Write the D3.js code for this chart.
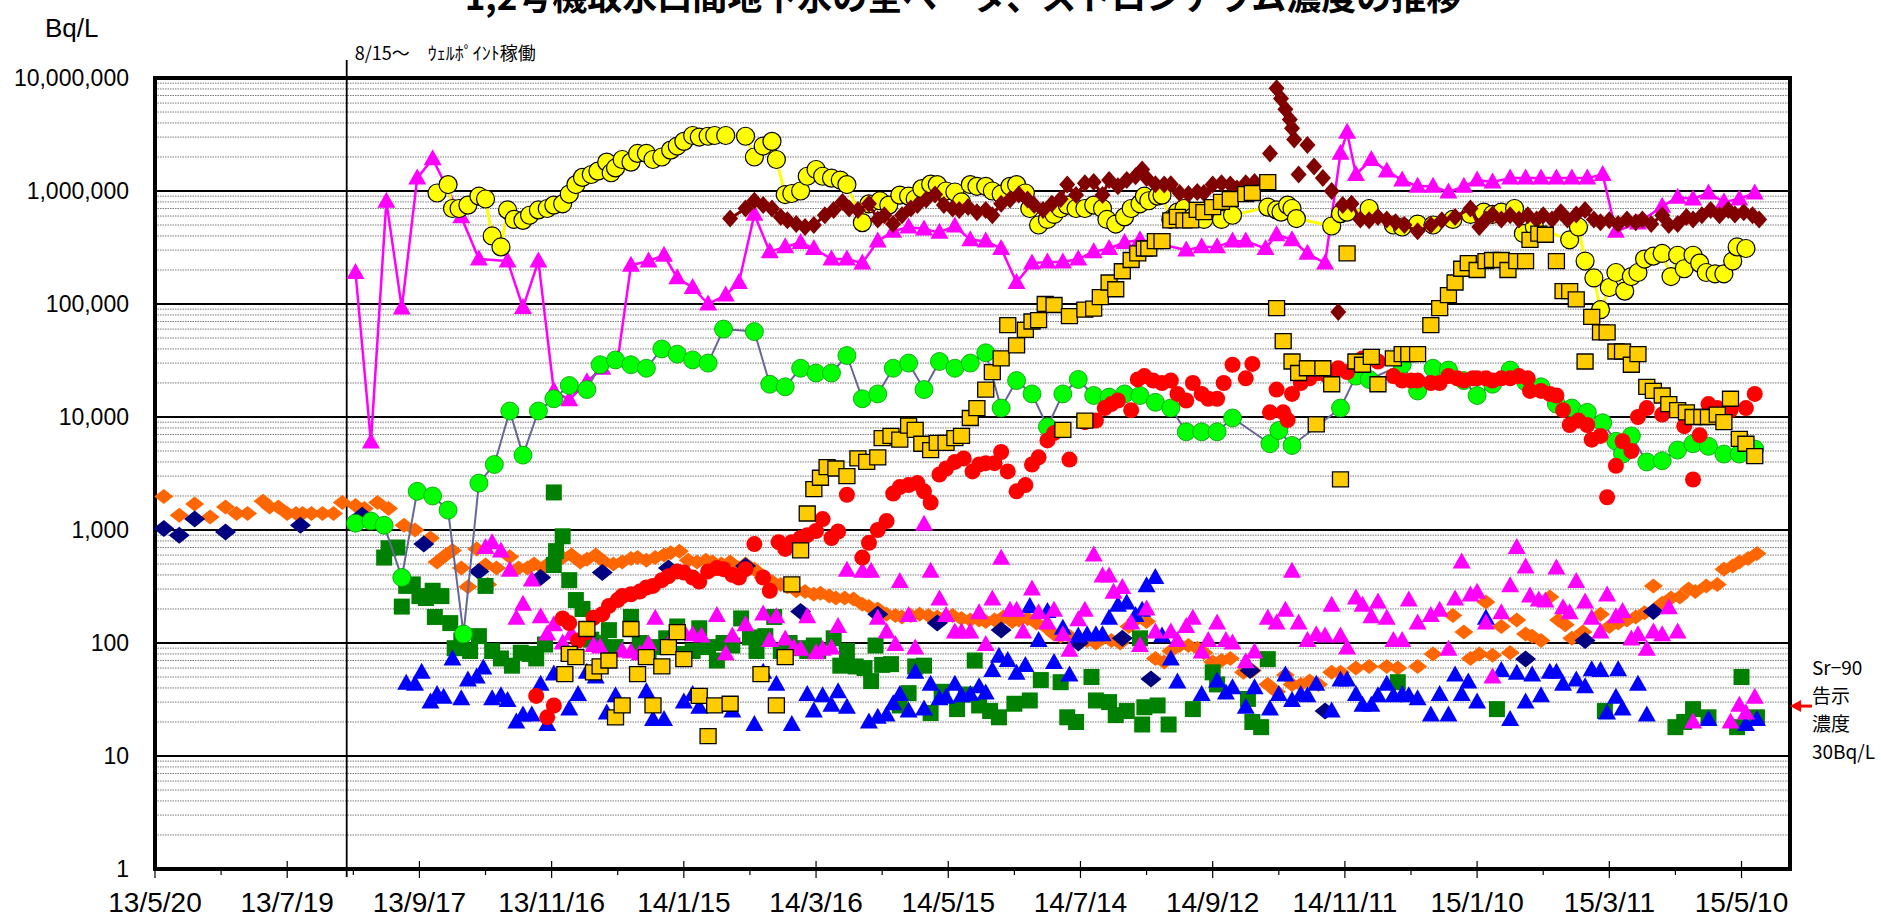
<!DOCTYPE html>
<html>
<head>
<meta charset="utf-8">
<script src="https://cdn.jsdelivr.net/npm/d3@7"></script>
<style>
body { margin: 0; background: #fff; }
</style>
</head>
<body>
<div id="chart"></div>
<script>
// tick labels
var xTickLabels = ["13/5/20","13/7/19","13/9/17","13/11/16","14/1/15","14/3/16","14/5/15","14/7/14","14/9/12","14/11/11","15/1/10","15/3/11","15/5/10"];
var yTickValues = [1,10,100,1000,10000,100000,1000000,10000000];
var yTickLabels = ["1","10","100","1,000","10,000","100,000","1,000,000","10,000,000"];

// series, [date, Bq/L]
var yellowCircles = [["13/9/25",9.6e5],["13/9/30",1.14e6],["13/10/2",7.0e5],["13/10/5",7.0e5],["13/10/9",7.5e5],["13/10/14",9.0e5],["13/10/17",8.5e5],["13/10/20",4.0e5],["13/10/24",3.2e5],["13/10/27",6.8e5],["13/10/30",5.6e5],["13/11/3",5.5e5],["13/11/6",6.1e5],["13/11/10",6.8e5],["13/11/14",7.0e5],["13/11/17",7.5e5],["13/11/21",7.7e5],["13/11/24",9.4e5],["13/11/27",1.14e6],["13/11/30",1.32e6],["13/12/4",1.4e6],["13/12/7",1.5e6],["13/12/11",1.8e6],["13/12/13",1.45e6],["13/12/15",1.6e6],["13/12/18",1.9e6],["13/12/22",1.8e6],["13/12/25",2.15e6],["13/12/29",2.15e6],["14/1/1",1.9e6],["14/1/5",2.0e6],["14/1/9",2.3e6],["14/1/12",2.5e6],["14/1/15",2.75e6],["14/1/19",3.1e6],["14/1/22",3.0e6],["14/1/26",3.05e6],["14/1/29",3.1e6],["14/2/3",3.1e6],["14/2/12",3.05e6],["14/2/16",2.0e6],["14/2/20",2.5e6],["14/2/24",2.75e6],["14/2/26",1.9e6],["14/3/2",9.3e5],["14/3/5",9.5e5],["14/3/9",1.0e6],["14/3/12",1.35e6],["14/3/16",1.55e6],["14/3/19",1.35e6],["14/3/23",1.3e6],["14/3/27",1.25e6],["14/3/30",1.14e6],["14/4/6",5.25e5],["14/4/9",7.7e5],["14/4/14",8.2e5],["14/4/18",7.5e5],["14/4/23",9.2e5],["14/4/27",9.0e5],["14/4/30",8.5e5],["14/5/3",1.05e6],["14/5/7",1.15e6],["14/5/10",1.14e6],["14/5/14",1.0e6],["14/5/18",9.8e5],["14/5/21",8.0e5],["14/5/25",1.14e6],["14/5/28",1.1e6],["14/6/1",1.1e6],["14/6/4",1.0e6],["14/6/8",9.4e5],["14/6/12",1.1e6],["14/6/15",1.14e6],["14/6/19",9.6e5],["14/6/21",7.0e5],["14/6/25",5.0e5],["14/6/29",5.6e5],["14/7/2",6.2e5],["14/7/5",7.0e5],["14/7/8",7.5e5],["14/7/12",7.0e5],["14/7/16",7.0e5],["14/7/20",7.5e5],["14/7/24",7.0e5],["14/7/26",5.6e5],["14/7/30",5.1e5],["14/8/3",5.9e5],["14/8/6",7.0e5],["14/8/10",7.7e5],["14/8/12",9.0e5],["14/8/14",8.2e5],["14/8/18",9.0e5],["14/8/20",9.2e5],["14/8/24",5.6e5],["14/8/27",6.5e5],["14/8/30",7.0e5],["14/9/3",5.9e5],["14/9/8",5.6e5],["14/9/16",5.6e5],["14/9/21",6.1e5],["14/10/7",7.2e5],["14/10/11",6.8e5],["14/10/13",6.5e5],["14/10/16",7.5e5],["14/10/18",7.0e5],["14/10/20",5.7e5],["14/11/5",4.9e5],["14/11/9",6.3e5],["14/11/12",6.5e5],["14/11/22",7.0e5],["14/12/3",5.0e5],["14/12/7",4.8e5],["14/12/14",5.1e5],["14/12/21",5.0e5],["14/12/30",5.6e5],["15/1/7",6.2e5],["15/1/13",6.5e5],["15/1/17",6.2e5],["15/1/21",6.5e5],["15/1/27",7.0e5],["15/1/31",4.2e5],["15/2/5",4.8e5],["15/2/21",3.7e5],["15/2/25",4.8e5],["15/2/28",2.4e5],["15/3/4",1.7e5],["15/3/7",8.9e4],["15/3/11",1.4e5],["15/3/14",1.9e5],["15/3/18",1.3e5],["15/3/21",1.75e5],["15/3/24",1.9e5],["15/3/27",2.5e5],["15/3/31",2.65e5],["15/4/4",2.8e5],["15/4/8",1.75e5],["15/4/11",2.7e5],["15/4/14",2.05e5],["15/4/18",2.7e5],["15/4/21",2.3e5],["15/4/24",1.9e5],["15/4/28",1.85e5],["15/5/2",1.85e5],["15/5/6",2.4e5],["15/5/8",3.2e5],["15/5/12",3.1e5]];

var maroonDiamonds = [["14/2/5",5.7e5],["14/2/12",7.0e5],["14/2/16",8.2e5],["14/2/20",7.5e5],["14/2/24",7.0e5],["14/2/28",5.9e5],["14/3/3",5.5e5],["14/3/7",5.1e5],["14/3/11",4.8e5],["14/3/15",5.0e5],["14/3/20",6.1e5],["14/3/24",6.8e5],["14/3/28",8.0e5],["14/3/31",7.0e5],["14/4/4",6.8e5],["14/4/9",7.7e5],["14/4/13",5.6e5],["14/4/16",6.1e5],["14/4/20",5.1e5],["14/4/24",6.1e5],["14/4/28",7.0e5],["14/5/1",7.5e5],["14/5/5",8.4e5],["14/5/9",9.3e5],["14/5/13",7.5e5],["14/5/17",7.0e5],["14/5/20",6.8e5],["14/5/24",7.2e5],["14/5/28",6.5e5],["14/6/1",6.8e5],["14/6/4",6.1e5],["14/6/8",7.7e5],["14/6/12",8.4e5],["14/6/16",9.3e5],["14/6/20",8.4e5],["14/6/23",7.5e5],["14/6/27",6.8e5],["14/7/1",7.7e5],["14/7/5",8.5e5],["14/7/8",1.14e6],["14/7/12",9.2e5],["14/7/16",1.17e6],["14/7/20",1.2e6],["14/7/24",9.2e5],["14/7/27",1.25e6],["14/7/31",1.1e6],["14/8/4",1.25e6],["14/8/8",1.35e6],["14/8/11",1.55e6],["14/8/13",1.3e6],["14/8/17",1.15e6],["14/8/21",1.14e6],["14/8/24",1.15e6],["14/8/28",9.6e5],["14/9/1",9.4e5],["14/9/5",9.8e5],["14/9/8",9.6e5],["14/9/12",1.14e6],["14/9/16",1.17e6],["14/9/20",1.14e6],["14/9/23",1.05e6],["14/9/27",1.17e6],["14/10/1",1.2e6]];
var maroonDiamondsLate = [["14/11/10",7.5e5],["14/11/14",7.7e5],["14/11/18",5.6e5],["14/11/22",5.5e5],["14/11/26",5.9e5],["14/11/30",5.6e5],["14/12/4",5.3e5],["14/12/8",5.0e5],["14/12/14",4.4e5],["14/12/20",5.0e5],["14/12/25",5.5e5],["14/12/31",5.9e5],["15/1/7",7.0e5],["15/1/11",4.8e5],["15/1/14",5.6e5],["15/1/17",6.2e5],["15/1/21",5.6e5],["15/1/25",6.1e5],["15/1/29",5.6e5],["15/2/2",6.1e5],["15/2/6",5.6e5],["15/2/9",6.1e5],["15/2/13",5.6e5],["15/2/17",6.5e5],["15/2/20",5.6e5],["15/2/24",6.2e5],["15/2/28",6.8e5],["15/3/4",5.6e5],["15/3/7",5.3e5],["15/3/11",5.5e5],["15/3/15",5.1e5],["15/3/19",5.6e5],["15/3/23",5.3e5],["15/3/26",5.6e5],["15/3/30",5.1e5],["15/4/4",6.1e5],["15/4/7",5.0e5],["15/4/11",5.1e5],["15/4/15",5.9e5],["15/4/18",5.6e5],["15/4/22",6.1e5],["15/4/26",6.8e5],["15/4/30",6.1e5],["15/5/4",6.8e5],["15/5/7",6.2e5],["15/5/11",6.5e5],["15/5/15",6.1e5],["15/5/18",5.6e5]];
var maroonSpike = [["14/10/11",8.1e6],["14/10/13",6.6e6],["14/10/15",5.3e6],["14/10/17",4.3e6],["14/10/18",3.6e6],["14/10/19",2.85e6]];
var maroonIsolated = [["14/10/8",2.15e6],["14/10/21",1.4e6],["14/10/25",2.55e6],["14/10/28",1.65e6],["14/11/1",1.3e6],["14/11/5",1.0e6],["14/11/8",8.5e4]];

var magentaLine = [["13/8/19",1.9e5],["13/8/26",6.0e3],["13/9/2",8.1e5],["13/9/9",9.2e4],["13/9/16",1.3e6],["13/9/23",1.93e6],["13/10/6",5.9e5],["13/10/14",2.5e5],["13/10/27",2.4e5],["13/11/3",9.3e4],["13/11/10",2.4e5],["13/11/17",1.7e4],["13/11/24",1.42e4],["13/12/2",2.05e4],["13/12/9",2.7e4],["13/12/16",3.2e4],["13/12/22",2.2e5],["13/12/30",2.4e5],["14/1/6",2.7e5],["14/1/12",1.7e5],["14/1/19",1.4e5],["14/1/26",1.0e5],["14/2/3",1.2e5],["14/2/9",1.55e5],["14/2/16",6.2e5],["14/2/23",2.9e5],["14/3/2",3.2e5],["14/3/9",3.5e5],["14/3/15",3.1e5],["14/3/23",2.5e5],["14/3/30",2.5e5],["14/4/6",2.3e5],["14/4/13",3.6e5],["14/4/20",4.4e5],["14/4/27",4.8e5],["14/5/4",4.6e5],["14/5/11",4.3e5],["14/5/18",4.9e5],["14/5/25",3.7e5],["14/6/1",3.6e5],["14/6/8",3.1e5],["14/6/15",1.55e5],["14/6/22",2.3e5],["14/6/29",2.35e5],["14/7/6",2.35e5],["14/7/13",2.5e5],["14/7/20",2.9e5],["14/7/27",3.1e5],["14/8/3",3.5e5],["14/8/10",3.7e5],["14/8/31",3.0e5],["14/9/7",3.2e5],["14/9/14",3.2e5],["14/9/21",3.6e5],["14/9/27",3.6e5],["14/10/6",3.1e5],["14/10/11",4.1e5],["14/10/18",3.7e5],["14/10/25",2.8e5],["14/11/2",2.3e5],["14/11/9",2.15e6],["14/11/12",3.3e6],["14/11/16",1.4e6],["14/11/23",1.9e6],["14/11/30",1.5e6],["14/12/7",1.25e6],["14/12/14",1.1e6],["14/12/21",1.1e6],["14/12/28",9.8e5],["15/1/4",1.1e6],["15/1/10",1.25e6],["15/1/17",1.2e6],["15/1/25",1.3e6],["15/2/1",1.3e6],["15/2/8",1.3e6],["15/2/15",1.3e6],["15/2/22",1.3e6],["15/3/1",1.3e6],["15/3/8",1.4e6],["15/3/14",4.4e5],["15/3/24",5.2e5],["15/4/4",7.3e5],["15/4/11",8.8e5],["15/4/18",8.5e5],["15/4/25",9.6e5],["15/5/2",8.0e5],["15/5/9",8.5e5],["15/5/16",9.6e5]];

var greenCircles = [["13/8/19",1.15e3],["13/8/26",1.2e3],["13/9/1",1.1e3],["13/9/9",3.8e2],["13/9/16",2.2e3],["13/9/23",2.0e3],["13/9/30",1.5e3],["13/10/7",1.2e2],["13/10/14",2.6e3],["13/10/21",3.8e3],["13/10/28",1.13e4],["13/11/3",4.6e3],["13/11/10",1.13e4],["13/11/17",1.45e4],["13/11/24",1.9e4],["13/12/2",1.75e4],["13/12/8",2.9e4],["13/12/15",3.2e4],["13/12/22",2.9e4],["13/12/29",2.7e4],["14/1/5",4.0e4],["14/1/12",3.6e4],["14/1/19",3.2e4],["14/1/26",3.0e4],["14/2/2",6.0e4],["14/2/16",5.7e4],["14/2/23",1.95e4],["14/3/2",1.85e4],["14/3/9",2.7e4],["14/3/16",2.45e4],["14/3/23",2.45e4],["14/3/30",3.5e4],["14/4/6",1.45e4],["14/4/13",1.6e4],["14/4/20",2.7e4],["14/4/27",3.0e4],["14/5/4",1.75e4],["14/5/11",3.1e4],["14/5/18",2.7e4],["14/5/25",3.0e4],["14/6/1",3.7e4],["14/6/8",1.2e4],["14/6/15",2.1e4],["14/6/22",1.6e4],["14/6/29",8.2e3],["14/7/6",1.6e4],["14/7/13",2.15e4],["14/7/20",1.55e4],["14/7/27",1.5e4],["14/8/3",1.6e4],["14/8/10",1.55e4],["14/8/17",1.35e4],["14/8/24",1.2e4],["14/8/31",7.4e3],["14/9/7",7.4e3],["14/9/14",7.4e3],["14/9/21",9.8e3],["14/10/8",5.8e3],["14/10/12",7.6e3],["14/10/18",5.6e3],["14/11/9",1.2e4],["14/11/16",2.3e4],["14/11/22",2.15e4],["14/12/7",2.9e4],["14/12/14",1.7e4],["14/12/21",2.7e4],["14/12/28",2.6e4],["15/1/4",2.1e4],["15/1/10",1.55e4],["15/1/17",1.95e4],["15/1/25",2.6e4],["15/2/1",2.05e4],["15/2/8",1.85e4],["15/2/15",1.3e4],["15/2/22",1.2e4],["15/3/1",1.1e4],["15/3/8",8.9e3],["15/3/14",6.1e3],["15/3/17",4.7e3],["15/3/21",6.8e3],["15/3/28",4.0e3],["15/4/4",4.1e3],["15/4/11",5.1e3],["15/4/18",5.8e3],["15/4/25",5.5e3],["15/5/2",4.7e3],["15/5/9",4.7e3],["15/5/16",5.2e3]];

var goldSquares = [["13/11/22",53],["13/11/24",80],["13/11/27",75],["13/12/2",133],["13/12/5",55],["13/12/8",62],["13/12/12",70],["13/12/15",22],["13/12/18",28],["13/12/22",133],["13/12/25",53],["13/12/29",75],["14/1/1",28],["14/1/5",62],["14/1/8",92],["14/1/12",125],["14/1/15",72],["14/1/22",34],["14/1/26",15],["14/1/29",28],["14/2/5",29],["14/2/19",53],["14/2/26",28],["14/3/2",75],["14/3/5",330],["14/3/9",660],["14/3/12",1400],["14/3/15",2300],["14/3/18",2900],["14/3/21",3600],["14/3/25",3500],["14/3/30",3000],["14/4/4",4300],["14/4/8",4000],["14/4/13",4400],["14/4/15",6500],["14/4/19",6800],["14/4/23",6300],["14/4/27",8400],["14/4/30",7700],["14/5/3",5800],["14/5/7",5100],["14/5/10",5900],["14/5/14",5900],["14/5/18",6500],["14/5/21",6800],["14/5/25",9800],["14/5/28",1.2e4],["14/6/1",1.75e4],["14/6/4",2.5e4],["14/6/8",3.3e4],["14/6/11",6.5e4],["14/6/15",4.3e4],["14/6/19",5.9e4],["14/6/22",7.0e4],["14/6/25",7.2e4],["14/6/28",1.0e5],["14/7/2",9.8e4],["14/7/6",7700],["14/7/9",7.8e4],["14/7/16",8.9e4],["14/7/16",9300],["14/7/20",9.1e4],["14/7/23",1.15e5],["14/7/27",1.55e5],["14/7/30",1.35e5],["14/8/2",1.95e5],["14/8/6",2.45e5],["14/8/9",2.8e5],["14/8/12",3.1e5],["14/8/14",3.1e5],["14/8/17",3.6e5],["14/8/20",3.6e5],["14/8/24",5.5e5],["14/8/27",5.9e5],["14/8/30",5.5e5],["14/9/2",5.5e5],["14/9/5",6.8e5],["14/9/8",6.5e5],["14/9/12",7.2e5],["14/9/16",8.0e5],["14/9/20",8.5e5],["14/9/27",9.4e5],["14/9/30",9.6e5],["14/10/7",1.2e6],["14/10/11",9.2e4],["14/10/14",4.7e4],["14/10/18",3.1e4],["14/10/21",2.45e4],["14/10/25",2.7e4],["14/10/29",8600],["14/11/1",2.7e4],["14/11/5",1.95e4],["14/11/9",2800],["14/11/12",2.8e5],["14/11/16",3.1e4],["14/11/19",2.9e4],["14/11/23",3.4e4],["14/11/26",1.95e4],["14/12/3",3.3e4],["14/12/7",3.6e4],["14/12/10",3.6e4],["14/12/14",3.6e4],["14/12/20",6.5e4],["14/12/24",9.2e4],["14/12/28",1.2e5],["14/12/31",1.55e5],["15/1/3",2.05e5],["15/1/6",2.3e5],["15/1/10",2.0e5],["15/1/14",2.4e5],["15/1/17",2.45e5],["15/1/21",2.45e5],["15/1/24",2.0e5],["15/1/28",2.4e5],["15/2/1",2.4e5],["15/2/3",3.7e5],["15/2/7",4.2e5],["15/2/10",4.1e5],["15/2/15",2.4e5],["15/2/18",1.3e5],["15/2/21",1.3e5],["15/2/24",1.1e5],["15/2/28",3.1e4],["15/3/3",7.7e4],["15/3/7",5.6e4],["15/3/10",5.6e4],["15/3/14",3.8e4],["15/3/17",3.8e4],["15/3/21",2.9e4],["15/3/24",3.6e4],["15/3/28",1.85e4],["15/3/31",1.7e4],["15/4/4",1.55e4],["15/4/7",1.3e4],["15/4/11",1.15e4],["15/4/15",1.1e4],["15/4/18",1.0e4],["15/4/22",1.0e4],["15/4/25",1.0e4],["15/4/29",1.05e4],["15/5/2",9000],["15/5/5",1.45e4],["15/5/9",6400],["15/5/12",5800],["15/5/16",4500]];

var redCircles = [["13/11/9",34],["13/11/14",22],["13/11/17",28],["13/11/21",165],["13/11/24",150],["13/11/28",105],["13/12/2",125],["13/12/5",167],["13/12/9",180],["13/12/12",213],["13/12/16",240],["13/12/18",260],["13/12/22",270],["13/12/26",285],["13/12/29",310],["14/1/1",320],["14/1/5",360],["14/1/8",390],["14/1/12",430],["14/1/15",420],["14/1/19",380],["14/1/22",350],["14/1/26",430],["14/1/30",460],["14/2/2",450],["14/2/6",400],["14/2/9",380],["14/2/12",450],["14/2/16",750],["14/2/20",380],["14/2/23",290],["14/2/27",780],["14/3/2",680],["14/3/5",780],["14/3/9",850],["14/3/12",900],["14/3/16",980],["14/3/19",1250],["14/3/23",850],["14/3/26",970],["14/3/30",2050],["14/4/6",570],["14/4/9",770],["14/4/13",1000],["14/4/17",1200],["14/4/20",2100],["14/4/23",2400],["14/4/27",2500],["14/5/1",2600],["14/5/4",2200],["14/5/7",1750],["14/5/11",3100],["14/5/14",3500],["14/5/18",4000],["14/5/22",4300],["14/5/26",3300],["14/5/29",3800],["14/6/1",3900],["14/6/5",3900],["14/6/8",4900],["14/6/11",3300],["14/6/15",2200],["14/6/19",2500],["14/6/22",3800],["14/6/25",4400],["14/6/29",6200],["14/7/2",7200],["14/7/9",4200],["14/7/16",9000],["14/7/21",9300],["14/7/25",1.2e4],["14/7/28",1.3e4],["14/7/31",1.4e4],["14/8/6",1.15e4],["14/8/9",2.15e4],["14/8/12",2.3e4],["14/8/16",2.1e4],["14/8/20",2.0e4],["14/8/24",2.1e4],["14/8/27",1.6e4],["14/8/31",1.4e4],["14/9/3",2.0e4],["14/9/7",1.6e4],["14/9/10",1.45e4],["14/9/14",1.45e4],["14/9/17",2.0e4],["14/9/21",2.9e4],["14/9/27",2.2e4],["14/9/30",2.95e4],["14/10/8",1.1e4],["14/10/11",1.75e4],["14/10/14",1.1e4],["14/10/16",9400],["14/10/18",1.6e4],["14/10/22",2.0e4],["14/10/26",2.2e4],["14/10/30",2.45e4],["14/11/3",2.3e4],["14/11/8",2.7e4],["14/11/12",2.5e4],["14/11/19",3.3e4],["14/11/26",3.1e4],["14/12/3",2.3e4],["14/12/7",2.1e4],["14/12/11",2.1e4],["14/12/14",2.1e4],["14/12/20",2.0e4],["14/12/24",2.0e4],["14/12/28",2.3e4],["15/1/1",2.2e4],["15/1/4",2.1e4],["15/1/8",2.2e4],["15/1/10",2.2e4],["15/1/14",2.2e4],["15/1/17",2.1e4],["15/1/21",2.2e4],["15/1/25",2.2e4],["15/1/29",2.3e4],["15/2/2",2.2e4],["15/2/3",1.7e4],["15/2/8",1.7e4],["15/2/12",1.6e4],["15/2/15",1.55e4],["15/2/18",1.15e4],["15/2/21",8500],["15/2/25",9300],["15/3/1",8500],["15/3/3",6300],["15/3/7",6800],["15/3/10",1950],["15/3/14",3700],["15/3/17",6100],["15/3/21",5000],["15/3/24",1.0e4],["15/3/28",1.2e4],["15/4/4",1.05e4],["15/4/14",8300],["15/4/18",2800],["15/4/21",6900],["15/4/25",1.3e4],["15/4/29",1.2e4],["15/5/5",1.15e4],["15/5/12",1.2e4],["15/5/16",1.6e4]];

var orangeDiamonds = [["13/5/24",1980],["13/5/31",1350],["13/6/7",1700],["13/6/14",1300],["13/6/21",1600],["13/6/26",1400],["13/7/1",1400],["13/7/8",1800],["13/7/11",1600],["13/7/15",1600],["13/7/19",1400],["13/7/23",1400],["13/7/26",1400],["13/7/30",1400],["13/8/4",1400],["13/8/9",1400],["13/8/13",1750],["13/8/19",1650],["13/8/23",1550],["13/8/29",1750],["13/9/3",1550],["13/9/10",1100],["13/9/15",1000],["13/9/22",850],["13/9/25",520],["13/9/29",600],["13/10/2",660],["13/10/6",460],["13/10/9",315],["13/10/13",680],["13/10/17",490],["13/10/18",330],["13/10/22",460],["13/10/28",580],["13/11/1",460],["13/11/5",460],["13/11/8",500],["13/11/12",460],["13/11/16",530],["13/11/21",570],["13/11/25",600],["13/11/29",520],["13/12/2",550],["13/12/6",600],["13/12/10",520],["13/12/14",500],["13/12/18",520],["13/12/22",560],["13/12/25",570],["13/12/29",540],["14/1/2",570],["14/1/6",600],["14/1/9",630],["14/1/13",650],["14/1/17",540],["14/1/21",520],["14/1/25",540],["14/1/28",520],["14/2/1",500],["14/2/5",520],["14/2/9",460],["14/2/12",500],["14/2/16",450],["14/2/20",380],["14/2/24",350],["14/2/28",330],["14/3/3",315],["14/3/7",290],["14/3/11",285],["14/3/15",270],["14/3/18",275],["14/3/22",260],["14/3/25",250],["14/3/29",250],["14/4/2",245],["14/4/6",220],["14/4/9",210],["14/4/13",200],["14/4/17",180],["14/4/21",175],["14/4/24",170],["14/4/28",175],["14/5/2",180],["14/5/6",175],["14/5/10",170],["14/5/13",165],["14/5/17",175],["14/5/21",165],["14/5/25",160],["14/5/29",160],["14/6/1",155],["14/6/5",160],["14/6/9",170],["14/6/13",155],["14/6/16",160],["14/6/20",165],["14/6/24",150],["14/6/28",140],["14/7/2",120],["14/7/5",115],["14/7/9",115],["14/7/13",110],["14/7/17",105],["14/7/21",100],["14/7/24",110],["14/7/28",105],["14/8/1",100],["14/8/5",140],["14/8/8",160],["14/8/13",155],["14/8/17",73],["14/8/21",68],["14/8/24",85],["14/8/28",95],["14/9/1",95],["14/9/5",90],["14/9/8",82],["14/9/12",68],["14/9/16",70],["14/9/20",73],["14/9/26",55],["14/9/30",57],["14/10/7",43],["14/10/11",37],["14/10/15",52],["14/10/18",43],["14/10/22",43],["14/10/26",46],["14/10/30",43],["14/11/5",55],["14/11/9",55],["14/11/16",60],["14/11/22",62],["14/11/30",62],["14/12/5",60],["14/12/14",62],["14/12/21",80],["14/12/30",175],["15/1/4",125],["15/1/7",73],["15/1/11",80],["15/1/14",230],["15/1/17",78],["15/1/21",140],["15/1/25",82],["15/1/28",160],["15/2/1",120],["15/2/4",115],["15/2/8",105],["15/2/12",255],["15/2/16",160],["15/2/19",145],["15/2/22",110],["15/2/27",125],["15/3/7",180],["15/3/11",140],["15/3/15",150],["15/3/19",160],["15/3/23",170],["15/3/27",185],["15/3/31",320],["15/4/4",225],["15/4/8",250],["15/4/12",255],["15/4/16",300],["15/4/19",285],["15/4/24",320],["15/4/29",330],["15/5/2",450],["15/5/6",480],["15/5/9",520],["15/5/13",560],["15/5/17",620]];

var navyDiamonds = [["13/5/24",1030],["13/5/31",900],["13/6/7",1250],["13/6/21",960],["13/7/25",1100],["13/8/22",1350],["13/9/19",750],["13/10/14",430],["13/11/11",380],["13/12/9",420],["14/1/8",460],["14/2/12",480],["14/3/9",190],["14/4/13",180],["14/5/10",150],["14/6/8",130],["14/7/13",100],["14/8/2",110],["14/8/15",48],["14/9/29",57],["14/11/2",25],["15/2/1",72],["15/2/28",105],["15/3/31",190]];

var darkGreenSquares = [["13/9/1",570],["13/9/3",690],["13/9/7",700],["13/9/9",210],["13/9/11",320],["13/9/14",330],["13/9/17",260],["13/9/20",250],["13/9/23",290],["13/9/24",170],["13/9/27",260],["13/10/1",150],["13/10/3",90],["13/10/6",105],["13/10/10",85],["13/10/14",115],["13/10/17",320],["13/10/20",85],["13/10/24",73],["13/10/29",63],["13/11/2",82],["13/11/6",80],["13/11/9",73],["13/11/13",97],["13/11/17",2150],["13/11/18",650],["13/11/21",880],["13/11/17",490],["13/11/24",360],["13/11/27",240],["13/11/30",200],["13/12/4",107],["13/12/8",100],["13/12/12",130],["13/12/15",92],["13/12/22",170],["13/12/26",100],["13/12/30",85],["14/1/3",92],["14/1/7",110],["14/1/12",140],["14/1/15",80],["14/1/19",85],["14/1/22",135],["14/1/26",92],["14/1/30",70],["14/2/2",100],["14/2/6",95],["14/2/10",165],["14/2/14",112],["14/2/17",85],["14/2/21",115],["14/2/25",170],["14/2/28",85],["14/3/4",100],["14/3/8",90],["14/3/12",85],["14/3/15",95],["14/3/17",85],["14/3/24",110],["14/3/27",63],["14/3/30",85],["14/4/3",62],["14/4/7",60],["14/4/10",46],["14/4/12",95],["14/4/15",64],["14/4/19",65],["14/4/23",28],["14/4/27",36],["14/4/30",62],["14/5/4",63],["14/5/7",24],["14/5/12",37],["14/5/19",26],["14/5/23",35],["14/5/27",70],["14/5/29",28],["14/6/3",25],["14/6/7",22],["14/6/14",29],["14/6/21",31],["14/6/26",47],["14/7/5",45],["14/7/8",22],["14/7/12",20],["14/7/19",50],["14/7/21",31],["14/7/27",30],["14/7/30",23],["14/8/4",25],["14/8/10",110],["14/8/11",19],["14/8/12",27],["14/8/18",28],["14/8/23",19],["14/9/3",26],["14/9/12",55],["14/9/14",43],["14/9/28",32],["14/9/30",20],["14/10/4",18],["14/10/7",72],["14/12/5",45],["15/1/19",26],["15/3/9",25],["15/4/10",18],["15/4/14",20],["15/4/18",26],["15/4/25",22],["15/5/8",18],["15/5/10",50],["15/5/17",22]];

var blueTriangles = [["13/9/11",44],["13/9/15",43],["13/9/18",55],["13/9/22",30],["13/9/25",35],["13/9/28",33],["13/10/2",72],["13/10/6",32],["13/10/9",47],["13/10/13",50],["13/10/16",60],["13/10/20",32],["13/10/24",34],["13/10/27",31],["13/10/31",20],["13/11/3",23],["13/11/7",23],["13/11/11",43],["13/11/14",19],["13/11/17",53],["13/11/24",26],["13/11/28",35],["13/12/2",55],["13/12/6",50],["13/12/11",24],["13/12/15",34],["13/12/29",37],["14/1/1",21],["14/1/6",21],["14/1/15",30],["14/1/19",35],["14/1/22",27],["14/2/6",25],["14/2/16",19],["14/2/20",55],["14/2/26",43],["14/3/5",19],["14/3/12",35],["14/3/15",25],["14/3/19",34],["14/3/23",28],["14/3/26",37],["14/3/30",27],["14/4/9",20],["14/4/13",22],["14/4/17",23],["14/4/20",29],["14/4/23",35],["14/4/27",25],["14/4/30",55],["14/5/4",26],["14/5/7",43],["14/5/11",32],["14/5/14",33],["14/5/18",43],["14/5/21",34],["14/5/25",35],["14/5/29",41],["14/6/1",36],["14/6/4",57],["14/6/7",76],["14/6/11",70],["14/6/15",54],["14/6/19",63],["14/6/21",210],["14/6/25",105],["14/6/29",190],["14/7/2",67],["14/7/6",135],["14/7/9",52],["14/7/13",115],["14/7/17",118],["14/7/21",118],["14/7/24",118],["14/7/27",165],["14/7/31",215],["14/8/4",225],["14/8/8",175],["14/8/11",195],["14/8/13",320],["14/8/17",380],["14/8/20",115],["14/8/24",72],["14/8/27",45],["14/9/7",35],["14/9/14",46],["14/9/18",36],["14/9/21",40],["14/9/27",27],["14/10/1",40],["14/10/8",26],["14/10/12",35],["14/10/15",52],["14/10/18",31],["14/10/22",35],["14/10/25",34],["14/10/29",43],["14/11/5",25],["14/11/9",47],["14/11/12",47],["14/11/16",35],["14/11/19",28],["14/11/23",28],["14/11/26",34],["14/11/30",43],["14/12/3",34],["14/12/7",35],["14/12/10",34],["14/12/14",32],["14/12/20",23],["14/12/24",35],["14/12/28",23],["14/12/31",52],["15/1/3",35],["15/1/6",45],["15/1/10",30],["15/1/14",165],["15/1/21",57],["15/1/25",21],["15/1/28",54],["15/2/1",30],["15/2/4",52],["15/2/8",34],["15/2/12",55],["15/2/15",55],["15/2/18",43],["15/2/24",47],["15/2/28",41],["15/3/3",58],["15/3/7",57],["15/3/10",24],["15/3/14",33],["15/3/15",58],["15/3/17",26],["15/3/24",43],["15/3/28",23],["15/4/25",21],["15/5/12",19],["15/5/17",21]];

var magentaTriangles = [["13/10/17",700],["13/10/20",770],["13/10/24",650],["13/10/28",440],["13/10/31",165],["13/11/3",220],["13/11/7",360],["13/11/11",170],["13/11/14",120],["13/11/17",145],["13/11/21",100],["13/11/25",120],["13/12/5",95],["13/12/8",92],["13/12/18",85],["13/12/22",83],["13/12/26",80],["13/12/30",98],["14/1/2",165],["14/1/8",97],["14/1/15",125],["14/1/19",118],["14/1/23",115],["14/1/30",175],["14/2/3",80],["14/2/6",115],["14/2/12",145],["14/2/20",180],["14/2/23",105],["14/2/26",170],["14/3/2",108],["14/3/6",90],["14/3/9",88],["14/3/12",170],["14/3/16",82],["14/3/19",88],["14/3/23",90],["14/3/26",140],["14/3/30",440],["14/4/6",430],["14/4/10",430],["14/4/13",165],["14/4/17",125],["14/4/21",97],["14/4/23",350],["14/4/27",175],["14/4/30",90],["14/5/4",1120],["14/5/7",430],["14/5/11",245],["14/5/14",175],["14/5/18",125],["14/5/21",125],["14/5/25",125],["14/5/29",185],["14/6/1",97],["14/6/4",245],["14/6/8",560],["14/6/12",195],["14/6/15",195],["14/6/18",125],["14/6/22",300],["14/6/25",185],["14/6/29",150],["14/7/2",195],["14/7/6",118],["14/7/9",86],["14/7/13",160],["14/7/16",195],["14/7/20",600],["14/7/24",390],["14/7/27",390],["14/7/29",280],["14/8/2",310],["14/8/6",150],["14/8/10",95],["14/8/13",200],["14/8/17",125],["14/8/24",125],["14/8/27",105],["14/8/31",140],["14/9/3",165],["14/9/7",83],["14/9/10",105],["14/9/14",150],["14/9/18",105],["14/9/21",100],["14/9/27",68],["14/10/1",83],["14/10/7",165],["14/10/11",150],["14/10/15",195],["14/10/18",430],["14/10/21",150],["14/10/25",105],["14/10/29",118],["14/11/2",115],["14/11/5",215],["14/11/9",115],["14/11/12",90],["14/11/16",250],["14/11/19",215],["14/11/23",170],["14/11/26",230],["14/11/30",165],["14/12/3",105],["14/12/7",105],["14/12/10",240],["14/12/14",150],["14/12/20",175],["14/12/24",195],["14/12/28",88],["14/12/31",245],["15/1/3",520],["15/1/7",265],["15/1/10",280],["15/1/14",150],["15/1/17",50],["15/1/21",185],["15/1/25",320],["15/1/28",700],["15/2/1",470],["15/2/3",260],["15/2/7",240],["15/2/10",235],["15/2/15",460],["15/2/18",205],["15/2/21",185],["15/2/24",350],["15/2/28",230],["15/3/3",165],["15/3/7",125],["15/3/10",265],["15/3/14",170],["15/3/17",190],["15/3/21",108],["15/3/24",118],["15/3/28",88],["15/3/31",125],["15/4/4",118],["15/4/7",205],["15/4/11",125],["15/4/18",20],["15/5/5",20],["15/5/9",28],["15/5/12",24],["15/5/16",33]];

var parseDate = d3.timeParse("%y/%m/%d");
var svgWidth = 1881, svgHeight = 919;
var plotLeft = 155, plotRight = 1790, plotTop = 78, plotBottom = 869;

var svg = d3.select("#chart").append("svg")
	.attr("width", svgWidth)
	.attr("height", svgHeight)
	.style("font-family", "'Liberation Sans', Arial, sans-serif");

var x = d3.scaleTime()
	.domain([parseDate("13/5/20"), parseDate("15/6/1")])
	.range([plotLeft, plotRight]);
var y = d3.scaleLog()
	.domain([1, 1e7])
	.range([plotBottom, plotTop]);

// minor grid (2..9 in each decade)
var minorValues = [];
for (var e = 0; e < 7; e++) {
	for (var k = 2; k < 10; k++) minorValues.push(k * Math.pow(10, e));
}
svg.append("g").selectAll("line").data(minorValues).enter().append("line")
	.attr("x1", plotLeft).attr("x2", plotRight)
	.attr("y1", function(d) { return y(d); }).attr("y2", function(d) { return y(d); })
	.style("stroke", "#7a7a7a").style("stroke-width", 1).style("stroke-dasharray", "1.5,1");

// decade lines
svg.append("g").selectAll("line").data(yTickValues.slice(1, 7)).enter().append("line")
	.attr("x1", plotLeft).attr("x2", plotRight)
	.attr("y1", function(d) { return y(d); }).attr("y2", function(d) { return y(d); })
	.style("stroke", "#000").style("stroke-width", 2.2);

// plot frame
svg.append("rect")
	.attr("x", plotLeft).attr("y", plotTop)
	.attr("width", plotRight - plotLeft).attr("height", plotBottom - plotTop)
	.style("fill", "none").style("stroke", "#000").style("stroke-width", 4);

// x ticks every 30 days, labels every 60
var majorDates = xTickLabels.map(parseDate);
var minorDates = majorDates.map(function(d) { return d3.timeDay.offset(d, 30); })
	.filter(function(d) { return d < x.domain()[1]; });
svg.append("g").selectAll("line").data(majorDates).enter().append("line")
	.attr("x1", function(d) { return x(d); }).attr("x2", function(d) { return x(d); })
	.attr("y1", plotBottom - 8).attr("y2", plotBottom + 9)
	.style("stroke", "#000").style("stroke-width", 1.2);
svg.append("g").selectAll("line").data(minorDates).enter().append("line")
	.attr("x1", function(d) { return x(d); }).attr("x2", function(d) { return x(d); })
	.attr("y1", plotBottom).attr("y2", plotBottom + 6)
	.style("stroke", "#000").style("stroke-width", 1.2);
svg.append("g").selectAll("text").data(xTickLabels).enter().append("text")
	.text(function(d) { return d; })
	.attr("x", function(d) { return x(parseDate(d)); })
	.attr("y", 912)
	.attr("text-anchor", "middle")
	.style("font-size", "28px");

// y labels
svg.append("g").selectAll("text").data(yTickValues).enter().append("text")
	.text(function(d, i) { return yTickLabels[i]; })
	.attr("x", 129)
	.attr("y", function(d) { return y(d) + 8; })
	.attr("text-anchor", "end")
	.style("font-size", "23px");

svg.append("text").text("Bq/L")
	.attr("x", 45).attr("y", 37)
	.style("font-size", "26px");

svg.append("text").text("1,2号機取水口間地下水の全ベータ、ストロンチウム濃度の推移")
	.attr("x", 963).attr("y", 10)
	.attr("text-anchor", "middle")
	.style("font-family", "'Noto Sans CJK JP', sans-serif")
	.style("font-weight", "bold")
	.style("font-size", "35px");

// well point line
var wellDate = parseDate("13/8/15");
svg.append("line")
	.attr("x1", x(wellDate)).attr("x2", x(wellDate))
	.attr("y1", 60).attr("y2", 877)
	.style("stroke", "#000").style("stroke-width", 1.8);
svg.append("text").text("8/15～　ｳｪﾙﾎﾟｲﾝﾄ稼働")
	.attr("x", x(wellDate) + 8).attr("y", 60)
	.style("font-family", "'Noto Sans CJK JP', sans-serif")
	.style("font-size", "18px");

// Sr-90 limit note
var limitY = y(30) + 4;
svg.append("line")
	.attr("x1", 1812).attr("x2", 1798)
	.attr("y1", limitY).attr("y2", limitY)
	.style("stroke", "#ff0000").style("stroke-width", 3);
svg.append("path")
	.attr("d", "M1790," + limitY + "L1801," + (limitY - 6) + "L1801," + (limitY + 6) + "Z")
	.style("fill", "#ff0000");
svg.append("g").selectAll("text").data(["Sr−90", "告示", "濃度", "30Bq/L"]).enter().append("text")
	.text(function(d) { return d; })
	.attr("x", 1812)
	.attr("y", function(d, i) { return 675 + i * 28; })
	.style("font-family", "'Noto Sans CJK JP', sans-serif")
	.style("font-size", "19px");

// markers
function shape(type, w, h) {
	if (type == "circle") return "M" + (-w / 2) + ",0A" + (w / 2) + "," + (w / 2) + " 0 1,0 " + (w / 2) + ",0A" + (w / 2) + "," + (w / 2) + " 0 1,0 " + (-w / 2) + ",0Z";
	if (type == "square") return "M" + (-w / 2) + "," + (-h / 2) + "h" + w + "v" + h + "h" + (-w) + "Z";
	if (type == "diamond") return "M0," + (-h / 2) + "L" + (w / 2) + ",0L0," + (h / 2) + "L" + (-w / 2) + ",0Z";
	if (type == "triangle") return "M0," + (-h * 0.6) + "L" + (w / 2) + "," + (h * 0.4) + "L" + (-w / 2) + "," + (h * 0.4) + "Z";
}
function drawMarkers(data, type, w, h, fill, stroke, sw) {
	svg.append("g").selectAll("path").data(data).enter().append("path")
		.attr("d", shape(type, w, h))
		.attr("transform", function(d) { return "translate(" + x(parseDate(d[0])) + "," + y(d[1]) + ")"; })
		.style("fill", fill)
		.style("stroke", stroke || "none")
		.style("stroke-width", sw || 0);
}
function drawLine(data, color, lw) {
	var line = d3.line()
		.x(function(d) { return x(parseDate(d[0])); })
		.y(function(d) { return y(d[1]); });
	svg.append("path").datum(data)
		.attr("d", line)
		.style("fill", "none")
		.style("stroke", color)
		.style("stroke-width", lw)
		.style("stroke-linejoin", "round");
}

drawMarkers(orangeDiamonds, "diamond", 19, 15, "#ff6600");
drawMarkers(navyDiamonds, "diamond", 21, 17, "#000080");
drawMarkers(darkGreenSquares, "square", 16, 16, "#008000");
drawMarkers(blueTriangles, "triangle", 18, 16, "#0000ff");
drawMarkers(magentaTriangles, "triangle", 18, 16, "#ff00ff");
drawLine(magentaLine, "#ff00ff", 2.5);
drawMarkers(magentaLine, "triangle", 18, 16, "#ff00ff");
drawLine(greenCircles, "#666699", 2);
drawMarkers(greenCircles, "circle", 18, 18, "#00ff00", "#009900", 0.8);
drawMarkers(redCircles, "circle", 16, 16, "#ff0000");
drawLine(yellowCircles, "#ffff00", 3);
drawMarkers(yellowCircles, "circle", 18, 18, "#ffff00", "#000", 1.2);
drawLine(maroonDiamonds, "#800000", 3);
drawLine(maroonDiamondsLate, "#800000", 3);
drawLine(maroonSpike, "#800000", 3);
drawMarkers(maroonDiamonds.concat(maroonDiamondsLate, maroonSpike, maroonIsolated), "diamond", 16, 18, "#800000");
drawMarkers(goldSquares, "square", 16, 15, "#ffcc00", "#000", 1.3);
</script>
</body>
</html>
